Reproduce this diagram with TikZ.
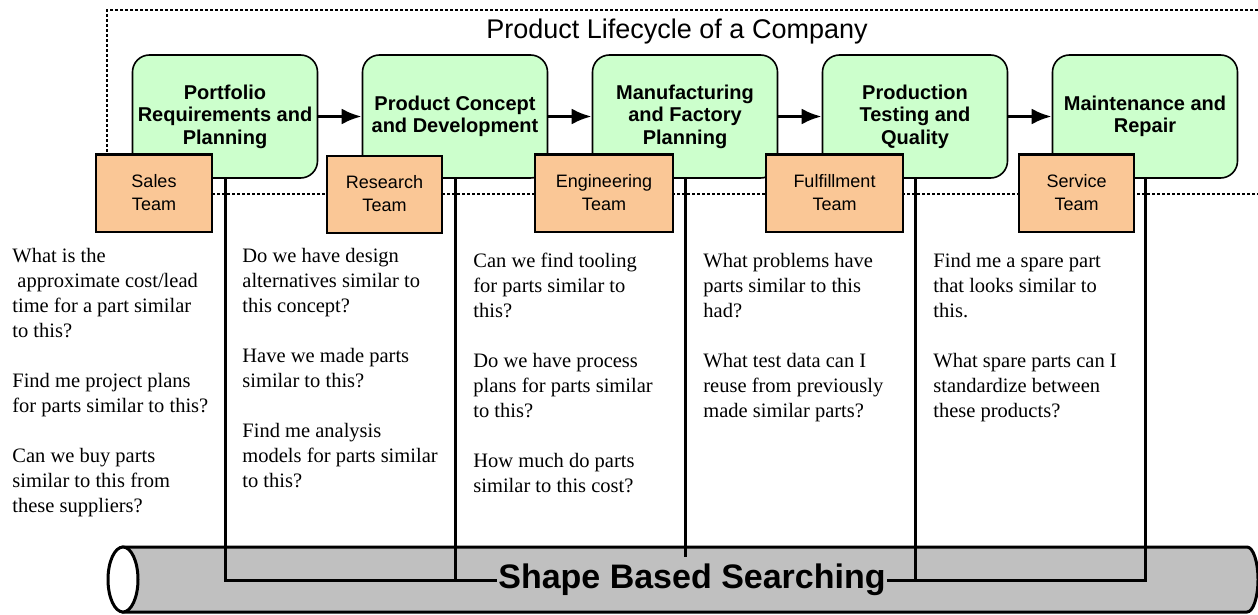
\documentclass[tikz,border=0pt]{standalone}
\usepackage{fontspec}
\setmainfont{Liberation Serif}
\setsansfont{Liberation Sans}
\usepackage{xcolor}
\usetikzlibrary{calc,arrows.meta}

\definecolor{phasegreen}{RGB}{204,255,204}
\definecolor{teampeach}{RGB}{250,199,150}
\definecolor{pipegray}{RGB}{192,192,192}

\begin{document}
\begin{tikzpicture}[x=1pt,y=-1pt,thick,
	phase node/.style = {draw, fill=phasegreen, rounded corners=17pt, line width=1.6pt, minimum width=185pt, minimum height=123pt, align=center, font=\sffamily\bfseries\fontsize{20}{22.5}\selectfont},
	team node/.style = {draw, fill=teampeach, line width=2pt, minimum height=77pt, align=center, font=\sffamily\fontsize{18}{23}\selectfont},
	question/.style = {anchor=north west, inner sep=0pt, align=left, font=\fontsize{20.5}{25}\selectfont},
	flow/.style = {line width=3.5pt, -{Latex[length=20pt,width=16pt]}},
	link/.style = {line width=3pt},
	frame line/.style = {line width=1.5pt, dash pattern=on 3pt off 2pt}]
	\useasboundingbox (0,0) rectangle (1258,615);
	% the pipe
	\filldraw[fill=pipegray, line width=3pt] (123,547) -- (1247,547) arc[start angle=-90, end angle=90, x radius=11, y radius=32.5] -- (123,612) -- cycle;
	\filldraw[fill=white, line width=3pt] (123,579.5) ellipse[x radius=15, y radius=32.5];
	\draw[frame line] (1258,10) -- (107,10) -- (107,194) -- (1258,194);
	\node[font=\sffamily\fontsize{27}{30}\selectfont] (title) at (677,32) {Product Lifecycle of a Company};
	\node[phase node] (p1) at (225,116.5) {Portfolio\\Requirements and\\Planning};
	\node[phase node] (p2) at (455,116.5) {Product Concept\\and Development};
	\node[phase node] (p3) at (685,116.5) {Manufacturing\\and Factory\\Planning};
	\node[phase node] (p4) at (915,116.5) {Production\\Testing and\\Quality};
	\node[phase node] (p5) at (1145,116.5) {Maintenance and\\Repair};
	\draw[flow] (p1) -- (p2);
	\draw[flow] (p2) -- (p3);
	\draw[flow] (p3) -- (p4);
	\draw[flow] (p4) -- (p5);
	\node[team node, minimum width=116pt] (t1) at (154,193) {Sales\\Team};
	\node[team node, minimum width=115pt] (t2) at (384.5,194) {Research\\Team};
	\node[team node, minimum width=138pt] (t3) at (604,193) {Engineering\\Team};
	\node[team node, minimum width=137pt] (t4) at (834.5,193) {Fulfillment\\Team};
	\node[team node, minimum width=115pt] (t5) at (1076.5,193) {Service\\Team};
	\node[question] (q1) at (12,248) {What is the\\\hspace*{5pt}approximate cost/lead\\time for a part similar\\to this?\\[25pt]Find me project plans\\for parts similar to this?\\[25pt]Can we buy parts\\similar to this from\\these suppliers?};
	\node[question] (q2) at (242,248) {Do we have design\\alternatives similar to\\this concept?\\[25pt]Have we made parts\\similar to this?\\[25pt]Find me analysis\\models for parts similar\\to this?};
	\node[question] (q3) at (473,253) {Can we find tooling\\for parts similar to\\this?\\[25pt]Do we have process\\plans for parts similar\\to this?\\[25pt]How much do parts\\similar to this cost?};
	\node[question] (q4) at (703,253) {What problems have\\parts similar to this\\had?\\[25pt]What test data can I\\reuse from previously\\made similar parts?};
	\node[question] (q5) at (933,253) {Find me a spare part\\that looks similar to\\this.\\[25pt]What spare parts can I\\standardize between\\these products?};
	\node[font=\sffamily\bfseries\fontsize{34}{36}\selectfont, inner sep=1pt] (search) at (692,579.5) {Shape Based Searching};
	\coordinate (b1) at (225,580);
	\coordinate (b2) at (455,580);
	\coordinate (b3) at (685,557);
	\coordinate (b4) at (915,580);
	\coordinate (b5) at (1145,580);
	\draw[link] (p1) -- (b1) -- (search.west |- b1);
	\draw[link] (p2) -- (b2);
	\draw[link] (p3) -- (b3);
	\draw[link] (p4) -- (b4);
	\draw[link] (p5) -- (b5) -- (search.east |- b5);
\end{tikzpicture}
\end{document}
